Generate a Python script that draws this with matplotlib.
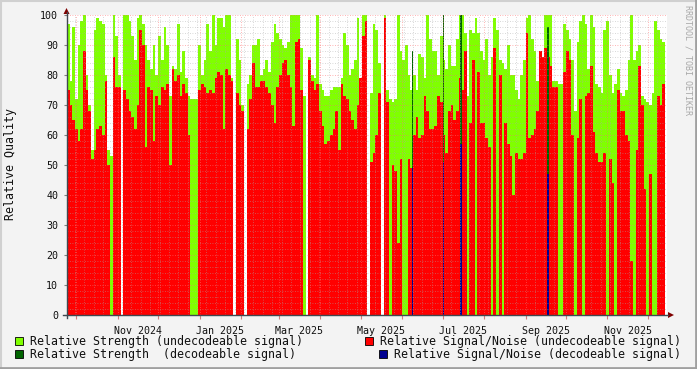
import numpy as np
import pandas as pd
import matplotlib
matplotlib.use("Agg")
import matplotlib.pyplot as plt
import matplotlib.transforms as mtrans
from matplotlib.patches import Rectangle, Polygon
from matplotlib.lines import Line2D

plt.rcParams['font.family'] = ['DejaVu Sans Mono']

# ---------------- data (2-day bins starting 2024-09-24) ----------------
start_date = "2024-09-24"
bin_days = 2

strength = [
    97, 78, 96, 72, 90, 98, 100, 80, 70, 55, 95, 99, 98, 97, 80, 55, 53, 100, 93, 80,
    None, 100, 100, 98, 93, 85, 99, 100, 97, 90, 85, 82, 90, 80, 93, 85, 96, 90, 73, 83,
    82, 97, 81, 88, 79, 73, 72, 72, 72, 90, 80, 85, 97, 88, 100, 90, 99, 99, 96, 100,
    100, 79, None, 92, 85, 70, None, 77, 80, 90, 90, 92, 80, 82, 85, 81, 91, 97, 94, 92,
    90, 89, 91, 100, 100, 100, 100, 89, 73, None, 86, 80, 79, 100, 77, 75, 73, 73, 75, 76,
    76, 76, 79, 94, 90, 80, 82, 85, 99, 78, 100, 100, None, 74, 97, 95, 84, None, 100, 75,
    72, 71, 72, 100, 88, 85, 90, 80, 75, 80, 75, 87, 86, 79, 100, 92, 88, 88, 80, 93,
    85, 82, 90, 83, 83, 92, 100, 100, 94, 73, 95, 94, 99, 94, 88, 85, 92, 80, 86, 99,
    95, 85, 84, 82, 90, 80, 80, 75, 72, 80, 85, 99, 100, 92, 88, 78, 88, 85, 100, 100,
    100, 78, 78, 77, 77, 97, 95, 92, 85, 68, 91, 98, 100, 97, 82, 100, 96, 77, 76, 74,
    95, 98, 80, 74, 77, 82, 74, 73, 75, 85, 100, 85, 88, 90, 73, 72, 71, 70, 74, 98,
    95, 92, 91,
]

snr = [
    75, 70, 65, 62, 58, 62, 88, 75, 68, 52, 55, 62, 63, 60, 78, 50, 0, 86, 76, 76,
    None, 75, 72, 68, 66, 62, 70, 95, 90, 56, 76, 75, 58, 73, 70, 76, 75, 77, 50, 82,
    78, 80, 73, 77, 74, 60, 0, 0, 0, 75, 77, 76, 74, 75, 74, 79, 81, 80, 62, 82,
    80, 78, None, 74, 70, 68, None, 62, 72, 84, 76, 76, 78, 78, 76, 74, 70, 64, 76, 80,
    84, 85, 80, 76, 63, 91, 92, 75, 0, None, 85, 78, 75, 77, 68, 63, 57, 58, 60, 62,
    68, 55, 77, 73, 72, 68, 65, 62, 70, 79, 93, 98, None, 51, 54, 60, 74, None, 99, 71,
    0, 50, 48, 24, 52, 0, 0, 52, 49, 60, 66, 59, 60, 73, 68, 62, 62, 63, 73, 71,
    60, 54, 68, 70, 65, 68, 79, 75, 88, 0, 64, 85, 0, 81, 64, 64, 59, 56, 0, 89,
    0, 80, 0, 64, 57, 53, 40, 54, 52, 52, 54, 94, 59, 60, 62, 68, 88, 86, 89, 86,
    83, 76, 76, 0, 0, 81, 88, 85, 60, 0, 59, 72, 0, 73, 74, 83, 61, 54, 51, 51,
    54, 0, 52, 44, 0, 75, 68, 68, 60, 58, 18, 0, 55, 83, 70, 42, 0, 47, 0, 0,
    73, 70, 77,
]

# decodeable signal (single days)
dec_dates = ["2025-06-08", "2025-07-01", "2025-07-14", "2025-09-17"]
dec_strength = [88, 100, 100, 96]
dec_snr = [49, 51, 57, 47]

month_labels = ["Nov 2024", "Jan 2025", "Mar 2025", "May 2025", "Jul 2025", "Sep 2025", "Nov 2025"]
month_label_dates = ["2024-11-16", "2025-01-16", "2025-03-16", "2025-05-16",
                     "2025-07-16", "2025-09-16", "2025-11-16"]

legend_items = [
    ("Relative Strength (undecodeable signal)", "#80FF00"),
    ("Relative Signal/Noise (undecodeable signal)", "#FF0000"),
    ("Relative Strength  (decodeable signal)", "#006400"),
    ("Relative Signal/Noise (decodeable signal)", "#000090"),
]

C_LG, C_RED, C_DG, C_BLUE = "#80FF00", "#FF0000", "#006400", "#000090"

# ---------------- figure ----------------
W, H = 697, 369
fig = plt.figure(figsize=(W / 100, H / 100), dpi=100, facecolor="#F3F3F3")
px = mtrans.Affine2D().scale(1 / W, -1 / H).translate(0, 1) + fig.transFigure

x0, x1, y0, y1 = 66.5, 666.5, 15, 315
ax = fig.add_axes([x0 / W, 1 - y1 / H, (x1 - x0) / W, (y1 - y0) / H])
ax.set_facecolor("white")

start = pd.Timestamp(start_date)
ax.set_xlim(start - pd.Timedelta(days=0.35), start + pd.Timedelta(days=445.1))
ax.set_ylim(0, 100)

dates = pd.date_range(start, periods=len(strength), freq=f"{bin_days}D")
s = np.array([np.nan if v is None else v for v in strength], float)
r = np.array([np.nan if v is None else v for v in snr], float)
ms = ~np.isnan(s)
mr = ~np.isnan(r) & (np.nan_to_num(r) > 0)
ax.bar(dates[ms], s[ms], width=bin_days, align="edge", color=C_LG, linewidth=0,
       antialiased=False, zorder=1)
ax.bar(dates[mr], r[mr], width=bin_days, align="edge", color=C_RED, linewidth=0,
       antialiased=False, zorder=1.1)
dd = pd.to_datetime(dec_dates)
ax.bar(dd, dec_strength, width=1.2, align="edge", color=C_DG, linewidth=0,
       antialiased=False, zorder=1.2)
ax.bar(dd, dec_snr, width=1.2, align="edge", color=C_BLUE, linewidth=0,
       antialiased=False, zorder=1.3)

# grid
months = pd.date_range("2024-10-01", "2025-12-01", freq="MS")
weeks = pd.date_range("2024-09-30", "2025-12-15", freq="7D")
ax.set_xticks(months)
ax.set_xticklabels([""] * len(months))
ax.set_xticks(weeks, minor=True)
ax.set_yticks(range(0, 101, 10))
ax.set_yticks(range(0, 101, 2), minor=True)
ax.set_axisbelow(False)
ax.grid(which="minor", color="#A8A8A8", linestyle=(0, (1, 2)), linewidth=0.6, alpha=0.6)
ax.grid(which="major", color="#FF7070", linestyle=(0, (1, 2)), linewidth=0.6, alpha=0.7)

ax.tick_params(axis="x", which="major", length=3, color="#D08080", width=0.8, direction="out")
ax.tick_params(axis="both", which="minor", length=0)
ax.tick_params(axis="y", which="major", length=2, color="#808080", width=0.8,
               labelsize=7.2, pad=4)
for lab in ax.get_yticklabels():
    lab.set_color("#101010")
for sp in ax.spines.values():
    sp.set_visible(False)

xt = ax.get_xaxis_transform()
for d, lab in zip(pd.to_datetime(month_label_dates), month_labels):
    ax.text(d, -0.035, lab, transform=xt, ha="center", va="top", fontsize=7.2,
            color="#101010", clip_on=False)

# axes lines and arrows
fig.add_artist(Line2D([63, 668], [315, 315], transform=px, color="#404850", lw=1))
fig.add_artist(Line2D([66.5, 66.5], [318, 12], transform=px, color="#404850", lw=1))
fig.add_artist(Polygon([[668, 312], [668, 318], [674, 315]], closed=True, transform=px,
                       facecolor="#7F0000", edgecolor="none"))
fig.add_artist(Polygon([[63.5, 14], [69.5, 14], [66.5, 8]], closed=True, transform=px,
                       facecolor="#7F0000", edgecolor="none"))

# y label and watermark
fig.text(11 / W, 1 - 164 / H, "Relative Quality", rotation=90, ha="center", va="center",
         fontsize=8.4, color="#101010")
fig.text(688 / W, 1 - 60 / H, "RRDTOOL / TOBI OETIKER", rotation=270, ha="center",
         va="center", fontsize=6, color="#A8A8A8")

# legend
sq = [(15, 337), (365, 337), (15, 350), (379, 350)]
tx = [(30, 341.5), (380, 341.5), (30, 354.5), (394, 354.5)]
for (label, col), (sx, sy), (tx_, ty_) in zip(legend_items, sq, tx):
    fig.add_artist(Rectangle((sx, sy), 8, 8, transform=px, facecolor=col,
                             edgecolor="#000000", lw=0.6))
    fig.text(tx_ / W, 1 - ty_ / H, label, ha="left", va="center", fontsize=8.4,
             color="#101010")

# frame
fig.add_artist(Line2D([0, 697], [0.5, 0.5], transform=px, color="#D0D0D0", lw=1.5))
fig.add_artist(Line2D([0.5, 0.5], [0, 369], transform=px, color="#D0D0D0", lw=1.5))
fig.add_artist(Line2D([0, 697], [368, 368], transform=px, color="#A0A0A0", lw=2))
fig.add_artist(Line2D([696, 696], [0, 369], transform=px, color="#A0A0A0", lw=2))

fig.savefig("out.png", dpi=100, facecolor=fig.get_facecolor())
